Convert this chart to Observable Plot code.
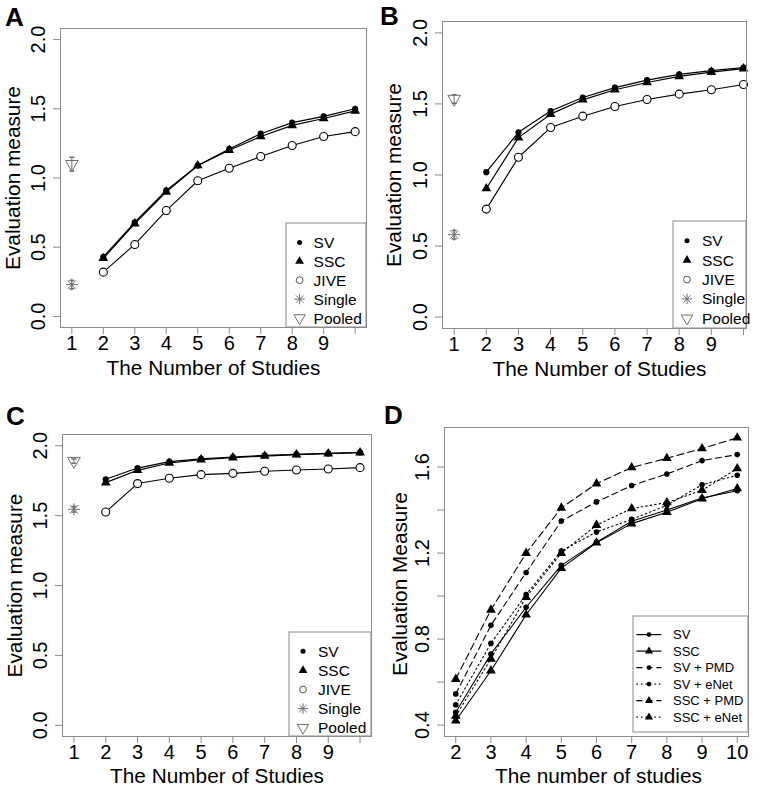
<!DOCTYPE html>
<html><head><meta charset="utf-8">
<script src="https://cdn.jsdelivr.net/npm/d3@7"></script>
<script src="https://cdn.jsdelivr.net/npm/@observablehq/plot@0.6"></script>
<style>
body{margin:0;background:#fff;font-family:"Liberation Sans",Arial,Helvetica,sans-serif;}
#wrap{position:relative;width:760px;height:790px;overflow:hidden;}
.panel{position:absolute;}
.letter{position:absolute;font-weight:bold;font-size:26px;line-height:1;color:#000;}
</style></head><body><div id="wrap"></div>
<script>
const FONT = '"Liberation Sans", Arial, Helvetica, sans-serif';

// ---------- data ----------
const studyN = [2, 3, 4, 5, 6, 7, 8, 9, 10];

// Panel A
const aSV   = [0.43, 0.68, 0.91, 1.09, 1.21, 1.32, 1.40, 1.445, 1.50];
const aSSC  = [0.42, 0.67, 0.90, 1.09, 1.20, 1.30, 1.38, 1.43, 1.485];
const aJIVE = [0.32, 0.52, 0.765, 0.98, 1.07, 1.155, 1.235, 1.30, 1.335];

// Panel B
const bSV   = [1.02, 1.30, 1.45, 1.545, 1.615, 1.668, 1.708, 1.734, 1.755];
const bSSC  = [0.905, 1.263, 1.428, 1.529, 1.60, 1.651, 1.694, 1.724, 1.748];
const bJIVE = [0.76, 1.125, 1.334, 1.414, 1.482, 1.531, 1.569, 1.60, 1.637];

// Panel C
const cSV   = [1.76, 1.84, 1.886, 1.905, 1.919, 1.931, 1.938, 1.945, 1.952];
const cSSC  = [1.736, 1.824, 1.876, 1.90, 1.914, 1.926, 1.936, 1.943, 1.95];
const cJIVE = [1.526, 1.729, 1.767, 1.793, 1.802, 1.817, 1.826, 1.833, 1.843];

// Single / Pooled at 1 study (panels A, B, C)
const singleVal = [0.23, 0.58, 1.545];
const singleErr = [0.03, 0.03, 0.02];
const pooledVal = [1.10, 1.535, 1.89];
const pooledErr = [0.05, 0.03, 0.015];

// Panel D
const dSV      = [0.46, 0.731, 0.948, 1.143, 1.251, 1.348, 1.40, 1.456, 1.49];
const dSSC     = [0.42, 0.653, 0.913, 1.13, 1.248, 1.337, 1.39, 1.453, 1.50];
const dSVPMD   = [0.545, 0.864, 1.11, 1.349, 1.438, 1.514, 1.568, 1.63, 1.658];
const dSVeNet  = [0.495, 0.78, 1.007, 1.21, 1.298, 1.357, 1.422, 1.518, 1.562];
const dSSCPMD  = [0.614, 0.936, 1.20, 1.41, 1.523, 1.598, 1.641, 1.686, 1.736];
const dSSCeNet = [0.443, 0.708, 0.995, 1.20, 1.33, 1.407, 1.435, 1.492, 1.593];

// tick labels
const abcXTicks = [1, 2, 3, 4, 5, 6, 7, 8, 9, 10];
const abcXLabels = [1, 2, 3, 4, 5, 6, 7, 8, 9];
const abcYTicks = [0, 0.5, 1, 1.5, 2];
const dXTicks = [2, 3, 4, 5, 6, 7, 8, 9, 10];
const dYTicks = [0.4, 0.6, 0.8, 1.0, 1.2, 1.4, 1.6];
const dYLabels = [0.4, 0.8, 1.2, 1.6];

// ---------- symbols ----------
const S3 = Math.sqrt(3);
const triDown = {draw(ctx, size) {
  const y = -Math.sqrt(size / (S3 * 3));
  ctx.moveTo(0, -y * 2); ctx.lineTo(S3 * y, y); ctx.lineTo(-S3 * y, y); ctx.closePath();
}};
const asterisk8 = {draw(ctx, size) {
  const r = Math.sqrt(size / Math.PI), d = r * Math.SQRT1_2;
  ctx.moveTo(-r, 0); ctx.lineTo(r, 0); ctx.moveTo(0, -r); ctx.lineTo(0, r);
  ctx.moveTo(-d, -d); ctx.lineTo(d, d); ctx.moveTo(-d, d); ctx.lineTo(d, -d);
}};
const capSym = {draw(ctx, size) {
  const r = Math.sqrt(size / Math.PI);
  ctx.moveTo(-r, 0); ctx.lineTo(r, 0);
}};

const GREY = "#6e6e6e";
const FRAME = "#8a8a8a";
const TITLE_FS = 20.8;

// ---------- panels ----------
const abcLegendItems = [
  {label: "SV", symbol: d3.symbolCircle, r: 2.5, fill: "black", stroke: "none"},
  {label: "SSC", symbol: d3.symbolTriangle, r: 3.3, fill: "black", stroke: "none"},
  {label: "JIVE", symbol: d3.symbolCircle, r: 3.4, fill: "none", stroke: "#555"},
  {label: "Single", symbol: asterisk8, r: 5.2, fill: "none", stroke: GREY},
  {label: "Pooled", symbol: triDown, r: 4.2, fill: "none", stroke: GREY}
];
const dLegendItems = [
  {label: "SV", symbol: d3.symbolCircle, r: 2.3, dash: null},
  {label: "SSC", symbol: d3.symbolTriangle, r: 3, dash: null},
  {label: "SV + PMD", symbol: d3.symbolCircle, r: 2.3, dash: "6,4"},
  {label: "SV + eNet", symbol: d3.symbolCircle, r: 2.3, dash: "1.5,3"},
  {label: "SSC + PMD", symbol: d3.symbolTriangle, r: 3, dash: "6,4"},
  {label: "SSC + eNet", symbol: d3.symbolTriangle, r: 3, dash: "1.5,3"}
];

const panels = [
  {letter: "A", left: 0, top: 0, letterPos: [5, 4],
   m: {top: 28, right: 14, bottom: 68, left: 60}, xd: [0.64, 10.36], yd: [-0.08, 2.08],
   series: [aSV, aSSC, aJIVE], idx: 0, xTitleDx: 0, xTitleDy: 41, yTitleDx: -47.5, yTitleDy: 0,
   legend: {w: 80, h: 104, first: 19.4, step: 18.9, sx: 13.6, tx: 27.6, fs: 15.5}},
  {letter: "B", left: 380, top: 0, letterPos: [380, 3],
   m: {top: 21, right: 14, bottom: 67, left: 62}, xd: [0.637, 10.093], yd: [-0.08, 2.08],
   series: [bSV, bSSC, bJIVE], idx: 1, xTitleDx: 5, xTitleDy: 41, yTitleDx: -47.7, yTitleDy: 0,
   legend: {w: 73, h: 107, first: 19.7, step: 19.4, sx: 14, tx: 29, fs: 15.5}},
  {letter: "C", left: 0, top: 395, letterPos: [6, 403],
   m: {top: 39, right: 9, bottom: 54, left: 62}, xd: [0.64, 10.36], yd: [-0.08, 2.08],
   series: [cSV, cSSC, cJIVE], idx: 2, xTitleDx: 0, xTitleDy: 40, yTitleDx: -47, yTitleDy: 0,
   legend: {w: 82, h: 104, first: 19.3, step: 19.1, sx: 14, tx: 29, fs: 15.5}}
];

const wrap = document.getElementById("wrap");

function addLetter(txt, x, y) {
  const d = document.createElement("div");
  d.className = "letter"; d.textContent = txt;
  d.style.left = x + "px"; d.style.top = y + "px";
  wrap.appendChild(d);
}

function place(svg, left, top) {
  const holder = document.createElement("div");
  holder.className = "panel";
  holder.style.left = left + "px"; holder.style.top = top + "px";
  holder.appendChild(svg);
  wrap.appendChild(holder);
}

function fmtTick(labels, digits) {
  return d => labels.some(v => Math.abs(v - d) < 1e-9) ? (digits == null ? String(d) : d.toFixed(digits)) : "";
}

function commonAxes(cfg, xTicks, xLabels, yTicks, yLabels, yDigits, xTitle, yTitle) {
  return [
    Plot.axisX({ticks: xTicks, tickFormat: fmtTick(xLabels, null), tickSize: 7, tickPadding: 9.3,
      lineAnchor: "middle", fontSize: 20, stroke: FRAME, fill: "black", label: null}),
    Plot.axisY({ticks: yTicks, tickFormat: fmtTick(yLabels, yDigits), tickSize: 7, tickPadding: 15,
      tickRotate: -90, textAnchor: "middle", lineAnchor: "middle", fontSize: 20, stroke: FRAME, fill: "black", label: null}),
    Plot.text([xTitle], {text: d => d, frameAnchor: "bottom", dy: cfg.xTitleDy, dx: cfg.xTitleDx,
      textAnchor: "middle", lineAnchor: "middle", fontSize: TITLE_FS, fill: "black"}),
    Plot.text([yTitle], {text: d => d, frameAnchor: "left", dx: cfg.yTitleDx, dy: cfg.yTitleDy, rotate: -90,
      textAnchor: "middle", lineAnchor: "middle", fontSize: TITLE_FS, fill: "black"})
  ];
}

function drawLegend(svg, frame, L, items, withLines) {
  const g = d3.select(svg).append("g").attr("font-family", FONT).attr("font-size", L.fs)
    .attr("text-anchor", "start");
  const x0 = frame.right - L.w, y0 = frame.bottom - L.h - (L.gap || 0);
  g.append("rect").attr("x", x0).attr("y", y0).attr("width", L.w).attr("height", L.h)
    .attr("fill", "white").attr("stroke", FRAME).attr("stroke-width", 1);
  items.forEach((it, i) => {
    const y = y0 + L.first + i * L.step;
    if (withLines) {
      g.append("line").attr("x1", x0 + L.lx1).attr("x2", x0 + L.lx2).attr("y1", y).attr("y2", y)
        .attr("stroke", "black").attr("stroke-width", 1.2)
        .attr("stroke-dasharray", it.dash || null);
    }
    g.append("path").attr("transform", `translate(${x0 + L.sx},${y})`)
      .attr("d", d3.symbol(it.symbol, Math.PI * it.r * it.r)())
      .attr("fill", it.fill || "black").attr("stroke", it.stroke || "none").attr("stroke-width", 1);
    g.append("text").attr("x", x0 + L.tx).attr("y", y).attr("dy", "0.36em")
      .attr("text-anchor", "start").attr("fill", "black").text(it.label);
  });
}

// ---- panels A, B, C ----
for (const cfg of panels) {
  const W = 380, H = 395;
  const toRows = arr => studyN.map((n, i) => ({n, v: arr[i]}));
  const sv = toRows(cfg.series[0]), ssc = toRows(cfg.series[1]), jive = toRows(cfg.series[2]);
  const single = [{n: 1, v: singleVal[cfg.idx], lo: singleVal[cfg.idx] - singleErr[cfg.idx], hi: singleVal[cfg.idx] + singleErr[cfg.idx]}];
  const pooled = [{n: 1, v: pooledVal[cfg.idx], lo: pooledVal[cfg.idx] - pooledErr[cfg.idx], hi: pooledVal[cfg.idx] + pooledErr[cfg.idx]}];
  const svg = Plot.plot({
    width: W, height: H,
    marginTop: cfg.m.top, marginRight: cfg.m.right, marginBottom: cfg.m.bottom, marginLeft: cfg.m.left,
    style: {fontFamily: FONT, background: "white", overflow: "visible"},
    x: {type: "linear", domain: cfg.xd},
    y: {type: "linear", domain: cfg.yd},
    marks: [
      ...commonAxes(cfg, abcXTicks, abcXLabels, abcYTicks, abcYTicks, 1, "The Number of Studies", "Evaluation measure"),
      Plot.line(jive, {x: "n", y: "v", stroke: "black", strokeWidth: 1.1}),
      Plot.line(ssc, {x: "n", y: "v", stroke: "black", strokeWidth: 1.2}),
      Plot.line(sv, {x: "n", y: "v", stroke: "black", strokeWidth: 1.2}),
      Plot.dot(sv, {x: "n", y: "v", r: 3.1, fill: "black", stroke: "none"}),
      Plot.dot(ssc, {x: "n", y: "v", r: 3.6, symbol: "triangle", fill: "black", stroke: "none"}),
      Plot.dot(jive, {x: "n", y: "v", r: 4, fill: "white", stroke: "black", strokeWidth: 1.1}),
      // Single with error bar
      Plot.ruleX(single, {x: "n", y1: "lo", y2: "hi", stroke: GREY, strokeWidth: 1}),
      Plot.dot(single, {x: "n", y: "hi", symbol: capSym, r: 2.5, stroke: GREY, fill: "none"}),
      Plot.dot(single, {x: "n", y: "lo", symbol: capSym, r: 2.5, stroke: GREY, fill: "none"}),
      Plot.dot(single, {x: "n", y: "v", symbol: asterisk8, r: 6, stroke: GREY, fill: "none", strokeWidth: 1}),
      // Pooled with error bar
      Plot.ruleX(pooled, {x: "n", y1: "lo", y2: "hi", stroke: GREY, strokeWidth: 1}),
      Plot.dot(pooled, {x: "n", y: "hi", symbol: capSym, r: 2.5, stroke: GREY, fill: "none"}),
      Plot.dot(pooled, {x: "n", y: "lo", symbol: capSym, r: 2.5, stroke: GREY, fill: "none"}),
      Plot.dot(pooled, {x: "n", y: "v", symbol: triDown, r: 4.7, stroke: GREY, fill: "none", strokeWidth: 1}),
      Plot.frame({stroke: FRAME, strokeWidth: 1})
    ]
  });
  const frame = {left: cfg.m.left, right: W - cfg.m.right, top: cfg.m.top, bottom: H - cfg.m.bottom};
  drawLegend(svg, frame, cfg.legend, abcLegendItems, false);
  place(svg, cfg.left, cfg.top);
  addLetter(cfg.letter, cfg.letterPos[0], cfg.letterPos[1]);
}

// ---- panel D ----
{
  const W = 380, H = 395;
  const cfg = {m: {top: 32, right: 12, bottom: 54, left: 64}, xTitleDx: 2, xTitleDy: 40.3, yTitleDx: -44, yTitleDy: 2};
  const toRows = arr => studyN.map((n, i) => ({n, v: arr[i]}));
  const seriesD = [
    {rows: toRows(dSV), sym: "circle", dash: null},
    {rows: toRows(dSSC), sym: "triangle", dash: null},
    {rows: toRows(dSVPMD), sym: "circle", dash: "6,4"},
    {rows: toRows(dSVeNet), sym: "circle", dash: "1.5,3"},
    {rows: toRows(dSSCPMD), sym: "triangle", dash: "7,4"},
    {rows: toRows(dSSCeNet), sym: "triangle", dash: "1.5,3"}
  ];
  const marks = [...commonAxes(cfg, dXTicks, dXTicks, dYTicks, dYLabels, 1, "The number of studies", "Evaluation Measure")];
  for (const s of seriesD) {
    marks.push(Plot.line(s.rows, {x: "n", y: "v", stroke: "black", strokeWidth: 1.1, strokeDasharray: s.dash}));
  }
  for (const s of seriesD) {
    marks.push(Plot.dot(s.rows, {x: "n", y: "v", symbol: s.sym, r: s.sym === "circle" ? 2.8 : 3.6, fill: "black", stroke: "none"}));
  }
  marks.push(Plot.frame({stroke: FRAME, strokeWidth: 1}));
  const svg = Plot.plot({
    width: W, height: H,
    marginTop: cfg.m.top, marginRight: cfg.m.right, marginBottom: cfg.m.bottom, marginLeft: cfg.m.left,
    style: {fontFamily: FONT, background: "white", overflow: "visible"},
    x: {type: "linear", domain: [1.68, 10.32]},
    y: {type: "linear", domain: [0.347, 1.784]},
    marks
  });
  const frame = {left: cfg.m.left, right: W - cfg.m.right, top: cfg.m.top, bottom: H - cfg.m.bottom};
  drawLegend(svg, frame, {w: 115, h: 116, gap: 4, first: 18.6, step: 16.5, sx: 16, lx1: 3.4, lx2: 28.4, tx: 40, fs: 13},
    dLegendItems.map(d => ({...d, fill: "black", stroke: "none"})), true);
  place(svg, 380, 395);
  addLetter("D", 384, 402);
}
</script>
</body></html>
